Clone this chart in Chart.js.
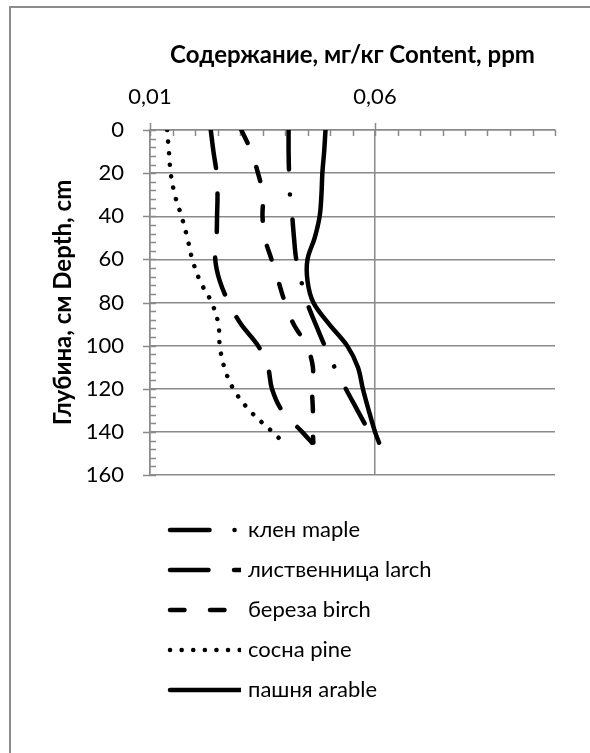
<!DOCTYPE html>
<html><head><meta charset="utf-8">
<script src="https://cdn.jsdelivr.net/npm/chart.js@4.4.1/dist/chart.umd.min.js"></script>
<style>
html,body{margin:0;padding:0;background:#fff;overflow:hidden}
#wrap{position:relative;width:590px;height:753px;overflow:hidden}
#frame{position:absolute;left:9px;top:6px;width:700px;height:800px;border:2px solid #8c8c8c;box-sizing:border-box}
canvas{position:absolute;left:0;top:0}
</style></head>
<body><div id="wrap"><div id="frame"></div><canvas id="c" width="590" height="753"></canvas></div>
<script>
// Depth, cm
const depths = [0, 10, 20, 30, 40, 50, 60, 70, 80, 90, 100, 110, 120, 130, 140, 145];
// Content, ppm
const maple  = [0.0408, 0.0408, 0.0409, 0.0411, 0.0416, 0.0420, 0.0425, 0.0436, 0.0449, 0.0468, 0.0488, 0.0510, 0.0535, 0.0561, 0.0587, 0.0600];
const larch  = [0.0235, 0.0241, 0.0248, 0.0250, 0.0249, 0.0248, 0.0245, 0.0255, 0.0275, 0.0302, 0.0340, 0.0362, 0.0371, 0.0393, 0.0438, 0.0460];
const birch  = [0.0303, 0.0325, 0.0340, 0.0351, 0.0350, 0.0355, 0.0370, 0.0385, 0.0400, 0.0419, 0.0448, 0.0462, 0.0460, 0.0462, 0.0462, 0.0463];
const pine   = [0.0138, 0.0142, 0.0146, 0.0155, 0.0170, 0.0183, 0.0194, 0.0211, 0.0237, 0.0252, 0.0255, 0.0265, 0.0285, 0.0321, 0.0372, 0.0397];
const arable = [0.0490, 0.0487, 0.0483, 0.0481, 0.0477, 0.0466, 0.0450, 0.0450, 0.0463, 0.0498, 0.0538, 0.0562, 0.0573, 0.0586, 0.0600, 0.0609];
const seriesNames = ['клен maple', 'лиственница larch', 'береза birch', 'сосна pine', 'пашня arable'];
const xTickValues = [0.01, 0.06];
const xMin = 0.01, xMax = 0.1, xMinorStep = 0.005;
const yMin = 0, yMax = 160, yMajorStep = 20, yMinorStep = 4;
const xTitle = 'Содержание, мг/кг Content, ppm';
const yTitle = 'Глубина, см Depth, cm';

const FONT = 'Lato, "Noto Sans", sans-serif';
const GRID = '#8a8a8a';
const LW = 4.5;

function pts(vals) { return depths.map((d, i) => ({ x: vals[i], y: d })); }

const styles = [
  { borderDash: [39.5, 25, 0.1, 25] },
  { borderDash: [38.5, 25.5] },
  { borderDash: [14.5, 25.5] },
  { borderDash: [0.1, 11.5] },
  { borderDash: [] }
];
const seriesVals = [maple, larch, birch, pine, arable];

const datasets = seriesVals.map((v, i) => ({
  label: seriesNames[i],
  data: pts(v),
  borderColor: '#000',
  backgroundColor: '#000',
  borderWidth: LW,
  borderCapStyle: 'round',
  borderJoinStyle: 'round',
  borderDash: styles[i].borderDash,
  pointRadius: 0,
  tension: 0.35,
  fill: false
}));

const tickMarks = {
  id: 'tickMarks',
  beforeDatasetsDraw(chart) {
    const { ctx, scales: { x, y }, chartArea: a } = chart;
    ctx.save();
    ctx.strokeStyle = GRID; ctx.lineWidth = 1.5;
    ctx.beginPath();
    for (let v = yMin; v <= yMax + 1e-9; v += yMinorStep) {
      const py = Math.round(y.getPixelForValue(v)) + 0.5;
      const major = Math.abs(v % yMajorStep) < 1e-9;
      ctx.moveTo(major ? a.left - 7 : a.left, py);
      ctx.lineTo(a.left + 6, py);
    }
    const n = Math.round((xMax - xMin) / xMinorStep);
    for (let k = 0; k <= n; k++) {
      const v = xMin + k * xMinorStep;
      const px = Math.round(x.getPixelForValue(v)) + 0.5;
      const major = xTickValues.some(t => Math.abs(t - v) < 1e-9);
      ctx.moveTo(px, major ? a.top - 7 : a.top);
      ctx.lineTo(px, a.top + 6);
    }
    ctx.stroke();
    ctx.restore();
  }
};

const legendRows = {
  id: 'legendRows',
  afterDraw(chart) {
    const { ctx, chartArea: a } = chart;
    chart.data.datasets.forEach((ds, i) => {
      const yy = a.bottom + 55 + i * 40;
      const x0 = a.left + 20;
      ctx.save();
      ctx.beginPath(); ctx.rect(x0 - 4, yy - 10, 75, 20); ctx.clip();
      ctx.strokeStyle = ds.borderColor; ctx.lineWidth = ds.borderWidth; ctx.lineCap = 'round';
      ctx.setLineDash(ds.borderDash || []);
      ctx.beginPath(); ctx.moveTo(x0, yy); ctx.lineTo(x0 + 80, yy); ctx.stroke();
      ctx.restore();
      ctx.save();
      ctx.fillStyle = '#000'; ctx.font = '22px ' + FONT; ctx.textBaseline = 'middle'; ctx.textAlign = 'left';
      ctx.fillText(ds.label, x0 + 78, yy);
      ctx.restore();
    });
  }
};

new Chart(document.getElementById('c'), {
  type: 'line',
  data: { datasets },
  plugins: [tickMarks, legendRows],
  options: {
    responsive: false,
    animation: false,
    devicePixelRatio: 1,
    indexAxis: 'y',
    layout: { padding: { left: 0, right: 35, top: 0, bottom: 278 } },
    plugins: { legend: { display: false }, tooltip: { enabled: false } },
    scales: {
      x: {
        type: 'linear', position: 'top', min: xMin, max: xMax,
        afterBuildTicks: s => { s.ticks = xTickValues.map(v => ({ value: v })); },
        afterFit: s => { s.height = 130; },
        ticks: { callback: v => v.toFixed(2).replace('.', ','), color: '#000', font: { family: FONT, size: 22 }, padding: 20, maxRotation: 0, autoSkip: false },
        grid: { color: GRID, lineWidth: 1.5, drawTicks: false },
        border: { display: true, color: GRID, width: 1.5 },
        title: { display: true, text: xTitle, color: '#000', font: { family: FONT, size: 24, weight: 'bold' }, padding: { top: 41, bottom: 0 } }
      },
      y: {
        type: 'linear', position: 'left', min: yMin, max: yMax, reverse: true,
        afterFit: s => { s.width = 150; },
        ticks: { stepSize: yMajorStep, color: '#000', font: { family: FONT, size: 22 }, padding: 26 },
        grid: { color: GRID, lineWidth: 1.5, drawTicks: false },
        border: { display: true, color: GRID, width: 1.5 },
        title: { display: true, text: yTitle, color: '#000', font: { family: FONT, size: 24, weight: 'bold' }, padding: { top: 49, bottom: 0 } }
      }
    }
  }
});
</script>
</body></html>
